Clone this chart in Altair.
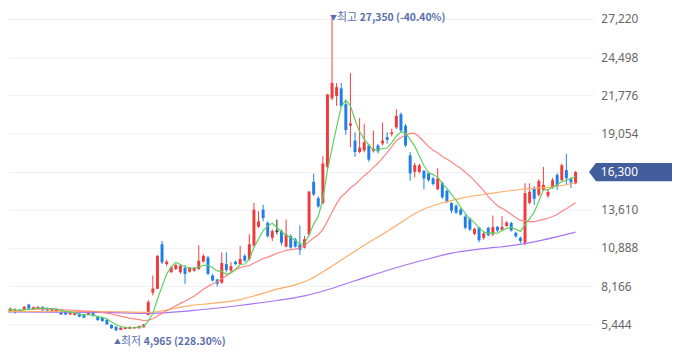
import altair as alt
import pandas as pd

# ---- daily candles (KRW) ----
opens = [6290, 6340, 6380, 6450, 6520, 6850, 6500, 6550, 6690, 6620,
         6410, 6340, 6380, 6340, 6150, 6100, 6220, 6150, 6100, 6340,
         5990, 5920, 5750, 5400, 5280, 5040, 5110, 5120, 5160, 5160,
         5230, 6100, 7700, 7980, 11150, 9740, 9160, 9390, 9160, 9460,
         9200, 9270, 9390, 9910, 10210, 8920, 8640, 8410, 9740, 9270,
         9910, 9740, 10330, 10100, 11080, 12400, 13620, 12680, 11620, 12090,
         12090, 10990, 11740, 11500, 11150, 10920, 11860, 15610, 14440, 14090,
         16670, 21560, 21720, 22270, 21140, 19610, 18550, 17730, 17850, 18200,
         17800, 18200, 18340, 18790, 19020, 19490, 20430, 19610, 17490, 16320,
         16320, 16390, 16210, 15850, 15070, 15520, 14960, 14090, 13900, 13620,
         13130, 12990, 11890, 12350, 11610, 12330, 11860, 12400, 12190, 12460,
         12670, 11970, 11610, 11270, 14110, 15170, 14680, 15030, 14610, 15240,
         16090, 15730, 16440, 15800, 15500]
highs = [6540, 6640, 6570, 6540, 6750, 6900, 6710, 6730, 6730, 6640,
         6610, 6550, 6430, 6360, 6290, 6270, 6240, 6190, 6310, 6360,
         6010, 5940, 5800, 5440, 5300, 5230, 5280, 5290, 5280, 5350,
         5480, 7160, 8920, 10380, 11390, 10050, 9600, 9740, 9740, 9670,
         9530, 9530, 11080, 10450, 10330, 9040, 8690, 10570, 10570, 9870,
         9980, 11030, 10450, 11860, 14110, 13500, 13970, 12790, 12210, 12920,
         12210, 12920, 11860, 11620, 12500, 11740, 14950, 16200, 14560, 17430,
         21840, 27350, 22660, 22660, 21370, 23360, 19140, 20150, 19750, 18330,
         19260, 18300, 19840, 19140, 19400, 20780, 20550, 19730, 17720, 16960,
         16910, 16440, 16320, 15960, 16580, 15610, 15070, 14160, 14010, 13740,
         13270, 13060, 12330, 12400, 12050, 12400, 13200, 12450, 13150, 12800,
         12750, 12050, 11700, 15500, 15500, 15310, 15800, 16670, 15030, 15890,
         16230, 16910, 17610, 15940, 16370]
lows = [6220, 6290, 6220, 6290, 6470, 6520, 6470, 6520, 6410, 6400,
        6380, 6310, 6110, 6100, 6110, 6080, 5940, 5870, 6080, 6010,
        5690, 5620, 5410, 5130, 4965, 5020, 5090, 5100, 5130, 5140,
        5210, 6080, 7500, 7950, 9740, 9600, 9110, 9320, 9040, 8330,
        9130, 9200, 9320, 9860, 8970, 8500, 8130, 8330, 9150, 9150,
        9670, 9670, 9910, 9980, 10940, 12330, 12790, 11620, 11390, 11860,
        11080, 10920, 10850, 10920, 10400, 10850, 11740, 14600, 13760, 14000,
        16440, 21420, 21020, 20900, 18970, 18080, 17380, 17650, 17710, 17050,
        17700, 17620, 18200, 18330, 18840, 19370, 19130, 18080, 15680, 15930,
        16200, 15080, 15610, 15330, 15000, 14380, 14090, 13370, 13320, 13200,
        12210, 12090, 11810, 11300, 11480, 11720, 11740, 12020, 12120, 12400,
        12060, 11620, 11230, 11080, 14000, 13970, 14560, 14960, 14460, 15100,
        15030, 15660, 15380, 15170, 15430]
closes = [6450, 6570, 6380, 6340, 6690, 6570, 6660, 6690, 6450, 6430,
          6570, 6520, 6150, 6150, 6270, 6240, 5990, 5920, 6290, 6030,
          5750, 5680, 5440, 5160, 5020, 5210, 5250, 5260, 5250, 5330,
          5440, 7040, 8000, 10330, 9860, 9910, 9510, 9670, 9620, 9040,
          9460, 9460, 9980, 10330, 9040, 8570, 8340, 9810, 9320, 9580,
          9740, 10100, 9980, 11150, 13620, 12790, 13030, 11740, 12090, 12090,
          11270, 11860, 10920, 10990, 10750, 11510, 14910, 14700, 13850, 16910,
          21840, 22660, 22360, 21020, 19300, 19770, 17730, 18040, 18430, 17190,
          17970, 17780, 18550, 18600, 19130, 20310, 19260, 18200, 16210, 16790,
          16790, 15850, 15730, 15450, 15850, 14510, 14180, 13550, 13410, 13270,
          12330, 12210, 12260, 11440, 11930, 11790, 12390, 12140, 12400, 12700,
          12140, 11720, 11390, 14800, 14890, 14400, 15660, 15380, 14890, 15730,
          15310, 16790, 15870, 15560, 16300]

# ---- longer moving averages ----
ma60_idx = [0, 21, 31, 40, 46, 51, 55, 59, 63, 66, 70, 73, 77, 84, 90, 95, 99, 106, 112, 119, 124]
ma60_val = [6360, 6360, 6290, 6780, 6970, 7210, 7560, 7950, 8260, 8620, 9390, 10030, 10870,
            12280, 13510, 14110, 14430, 14800, 15060, 15240, 15520]
ma120_idx = [0, 21, 31, 43, 50, 59, 65, 70, 76, 84, 91, 97, 104, 110, 117, 124]
ma120_val = [6330, 6290, 6220, 6500, 6750, 7140, 7470, 7910, 8550, 9390, 10030, 10520,
             10840, 11050, 11470, 12020]

y_ticks = [5444, 8166, 10888, 13610, 16332, 19054, 21776, 24498, 27220]

high_idx, high_price, high_label = 71, 27350, "27,350 (-40.40%)"
low_idx, low_price, low_label = 24, 4965, "4,965 (228.30%)"

RED = "#ef3b3b"
BLUE = "#1f7ee8"
FLAT = "#222222"
ANN = "#5b6fae"
BADGE = "#435e9c"

n = len(closes)
trend = ["up" if c > o else ("down" if c < o else "flat") for o, c in zip(opens, closes)]
df = pd.DataFrame({"idx": list(range(n)), "open": opens, "high": highs,
                   "low": lows, "close": closes, "trend": trend})

x_scale = alt.Scale(domain=[1.55, 126.71], nice=False, zero=False)
y_scale = alt.Scale(domain=[3894, 27854], nice=False, zero=False)
y_axis = alt.Axis(orient="right", values=y_ticks, title=None, grid=True,
                  labelExpr="format(datum.value, ',')",
                  gridColor="#eef0f7", gridWidth=1, domain=False, ticks=False,
                  labelPadding=8, labelColor="#666666", labelFontSize=12,
                  labelFont="Noto Sans")


def X(field="idx:Q"):
    return alt.X(field, scale=x_scale, axis=None)


def Y(field):
    return alt.Y(field, scale=y_scale, axis=y_axis)


color = alt.Color("trend:N", scale=alt.Scale(domain=["up", "down", "flat"],
                                              range=[RED, BLUE, FLAT]), legend=None)

base = alt.Chart(df)

wicks = base.mark_rule(strokeWidth=1, clip=True).encode(
    x=X(), y=Y("low:Q"), y2="high:Q", color=color)
bodies = base.mark_bar(width=3, clip=True).encode(
    x=X(), y=Y("open:Q"), y2="close:Q", color=color)
dojis = base.transform_filter(alt.datum.trend == "flat").transform_calculate(
    xa="datum.idx - 0.34", xb="datum.idx + 0.34"
).mark_rule(strokeWidth=1.2, color=FLAT, clip=True).encode(
    x=X("xa:Q"), x2="xb:Q", y=Y("close:Q"))

ma5 = base.transform_window(
    ma5="mean(close)", frame=[-4, 0], sort=[alt.SortField("idx", order="ascending")]
).mark_line(color="#5fd05f", strokeWidth=1.2, clip=True).encode(x=X(), y=Y("ma5:Q"))
ma20 = base.transform_window(
    ma20="mean(close)", frame=[-19, 0], sort=[alt.SortField("idx", order="ascending")]
).mark_line(color="#ff8585", strokeWidth=1.2, clip=True).encode(x=X(), y=Y("ma20:Q"))

df60 = pd.DataFrame({"idx": ma60_idx, "v": ma60_val})
df120 = pd.DataFrame({"idx": ma120_idx, "v": ma120_val})
ma60 = alt.Chart(df60).mark_line(color="#ffad66", strokeWidth=1.2, clip=True,
                                 interpolate="monotone").encode(x=X(), y=Y("v:Q"))
ma120 = alt.Chart(df120).mark_line(color="#a874f2", strokeWidth=1.2, clip=True,
                                   interpolate="monotone").encode(x=X(), y=Y("v:Q"))

ann_hi = alt.Chart(pd.DataFrame({"idx": [high_idx], "p": [high_price]}))
ann_lo = alt.Chart(pd.DataFrame({"idx": [low_idx], "p": [low_price]}))
FONT = "Noto Sans CJK KR"


def ann_layers(ch, arrow, word, label, dy):
    a = ch.mark_text(text=arrow, align="left", baseline="middle", dx=-2, dy=dy,
                     fontSize=7, color=ANN, font=FONT).encode(x=X(), y=Y("p:Q"))
    w = ch.mark_text(text=word, align="left", baseline="middle", dx=5, dy=dy,
                     fontSize=11, color=ANN, font=FONT).encode(x=X(), y=Y("p:Q"))
    t = ch.mark_text(text=label, align="left", baseline="middle", dx=28, dy=dy,
                     fontSize=10.5, fontWeight="bold", color=ANN, font=FONT).encode(
        x=X(), y=Y("p:Q"))
    return [a, w, t]


badge_df = pd.DataFrame({"p": [closes[-1]]})
badge = alt.Chart(badge_df).mark_point(
    shape="M -1 0 L -0.833 -0.219 L 1 -0.219 L 1 0.219 L -0.833 0.219 Z",
    size=7056, filled=True, color=BADGE, opacity=1, strokeWidth=0
).encode(x=alt.value(630), y=Y("p:Q"))
badge_txt = alt.Chart(badge_df).mark_text(
    align="left", baseline="middle", color="white", fontSize=12, font="Noto Sans"
).encode(x=alt.value(600), y=Y("p:Q"), text=alt.Text("p:Q", format=","))

layers = [wicks, bodies, dojis, ma120, ma60, ma20, ma5]
layers += ann_layers(ann_hi, "▼", "최고", high_label, 1)
layers += ann_layers(ann_lo, "▲", "최저", low_label, 11)
layers += [badge, badge_txt]

chart = alt.layer(*layers).properties(
    width=592, height=340,
    autosize=alt.AutoSizeParams(type="none"),
    padding={"left": 0, "top": 0, "right": 80, "bottom": 12},
    background="white",
).configure_view(stroke=None)

chart.save("out.html", embed_options={"renderer": "svg", "actions": False})
